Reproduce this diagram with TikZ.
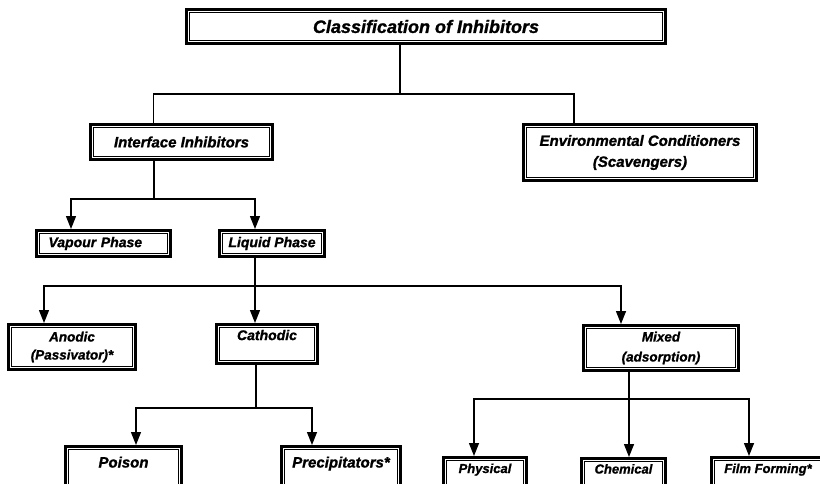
\documentclass[tikz,border=0pt]{standalone}
\usepackage{fontspec}
\setmainfont{Liberation Sans}[BoldItalicFeatures={FakeBold=1.2}]
\usetikzlibrary{arrows.meta}
\tikzset{
  bx/.style={draw, line width=3pt, fill=white, align=center, inner sep=0pt,
    font=\bfseries\itshape},
  bot/.style={bx, anchor=north, inner ysep=0pt},
  ln/.style={line width=1.4pt},
  arr/.style={ln, -{Triangle[width=10pt,length=13pt]}},
}
\newcommand\fs[2]{\fontsize{#1}{#2}\selectfont}
\begin{document}
\begin{tikzpicture}[x=1pt,y=-1pt]
\useasboundingbox (0,0) rectangle (820,483);
\fill[white] (0,0) rectangle (820,483);
\begin{scope}
\clip (0,0) rectangle (820,483);
% nodes
\node[bx, minimum width=479, minimum height=34, font=\bfseries\itshape\fs{18}{22}] (top) at (426,26.5) {Classification of Inhibitors};
\node[bx, minimum width=182, minimum height=35, font=\bfseries\itshape\fs{15}{19}] (int) at (181.5,142) {Interface Inhibitors};
\node[bx, minimum width=233, minimum height=56, font=\bfseries\itshape\fs{15}{21}] (env) at (640,152.5) {Environmental Conditioners\\(Scavengers)};
\node[bx, inner xsep=12pt, text width=110pt, align=left, minimum height=26, font=\bfseries\itshape\fs{14}{17}] (vap) at (103.5,243.5) {Vapour Phase};
\node[bx, minimum width=105, minimum height=26, font=\bfseries\itshape\fs{14}{17}] (liq) at (272,243.5) {Liquid Phase};
\node[bx, minimum width=127, minimum height=45, font=\bfseries\itshape\fs{13.5}{18}] (ano) at (72,347) {Anodic\\(Passivator)*};
\node[bx, minimum width=101, minimum height=39, font=\bfseries\itshape\fs{14}{18}] (cat) at (267,344) {Cathodic\\\mbox{}};
\node[bx, minimum width=155, minimum height=45, font=\bfseries\itshape\fs{13.5}{20}] (mix) at (661,348) {Mixed\\(adsorption)};
\node[bot, minimum width=116, text height=21pt, text depth=30pt, font=\bfseries\itshape\fs{15}{18}] (poi) at (123.5,445) {Poison};
\node[bot, minimum width=119, text height=21pt, text depth=30pt, font=\bfseries\itshape\fs{15}{18}] (pre) at (341,445) {Precipitators*};
\node[bot, minimum width=83, text height=15.5pt, text depth=30pt, font=\bfseries\itshape\fs{13}{16}] (phy) at (485,456) {Physical};
\node[bot, minimum width=84, text height=15pt, text depth=30pt, font=\bfseries\itshape\fs{13}{16}] (che) at (623.5,457) {Chemical};
\node[bot, minimum width=113, text height=15.5pt, text depth=30pt, font=\bfseries\itshape\fs{13}{16}] (fil) at (768,456) {Film Forming*};
% inner thin frames
\foreach \n in {top,int,env,vap,liq,ano,cat,mix,poi,pre,phy,che,fil}
  \draw[line width=0.8pt] ([shift={(4.6,4.6)}]\n.north west) rectangle ([shift={(-4.6,-4.6)}]\n.south east);
% connectors level 1
\coordinate (h1) at (400,94);
\draw[ln] ([xshift=-26]top.south) -- (h1);
\draw[ln] ([xshift=-28]int.north) |- (h1) -| ([xshift=-66]env.north);
% level 2
\coordinate (h2) at (154,199);
\draw[ln] ([xshift=-27.5]int.south) -- (h2);
\draw[arr] (h2) -| ([xshift=-32.5]vap.north);
\draw[arr] (h2) -| ([xshift=-17]liq.north);
% level 3
\coordinate (h3) at (255,286);
\draw[ln] ([xshift=-17]liq.south) -- (h3);
\draw[arr] (h3) -| ([xshift=-28]ano.north);
\draw[arr] (h3) -- ([xshift=-12]cat.north);
\draw[arr] (h3) -| ([xshift=-40]mix.north);
% cathodic
\coordinate (h4) at (256,408);
\draw[ln] ([xshift=-11]cat.south) -- (h4);
\draw[arr] (h4) -| ([xshift=12.5]poi.north);
\draw[arr] (h4) -| ([xshift=-29]pre.north);
% mixed
\coordinate (h5) at (629,399);
\draw[ln] ([xshift=-32]mix.south) -- (h5);
\draw[arr] (h5) -| ([xshift=-11]phy.north);
\draw[arr] (h5) -- ([xshift=5.5]che.north);
\draw[arr] (h5) -| ([xshift=-19]fil.north);
\end{scope}
\end{tikzpicture}
\end{document}
